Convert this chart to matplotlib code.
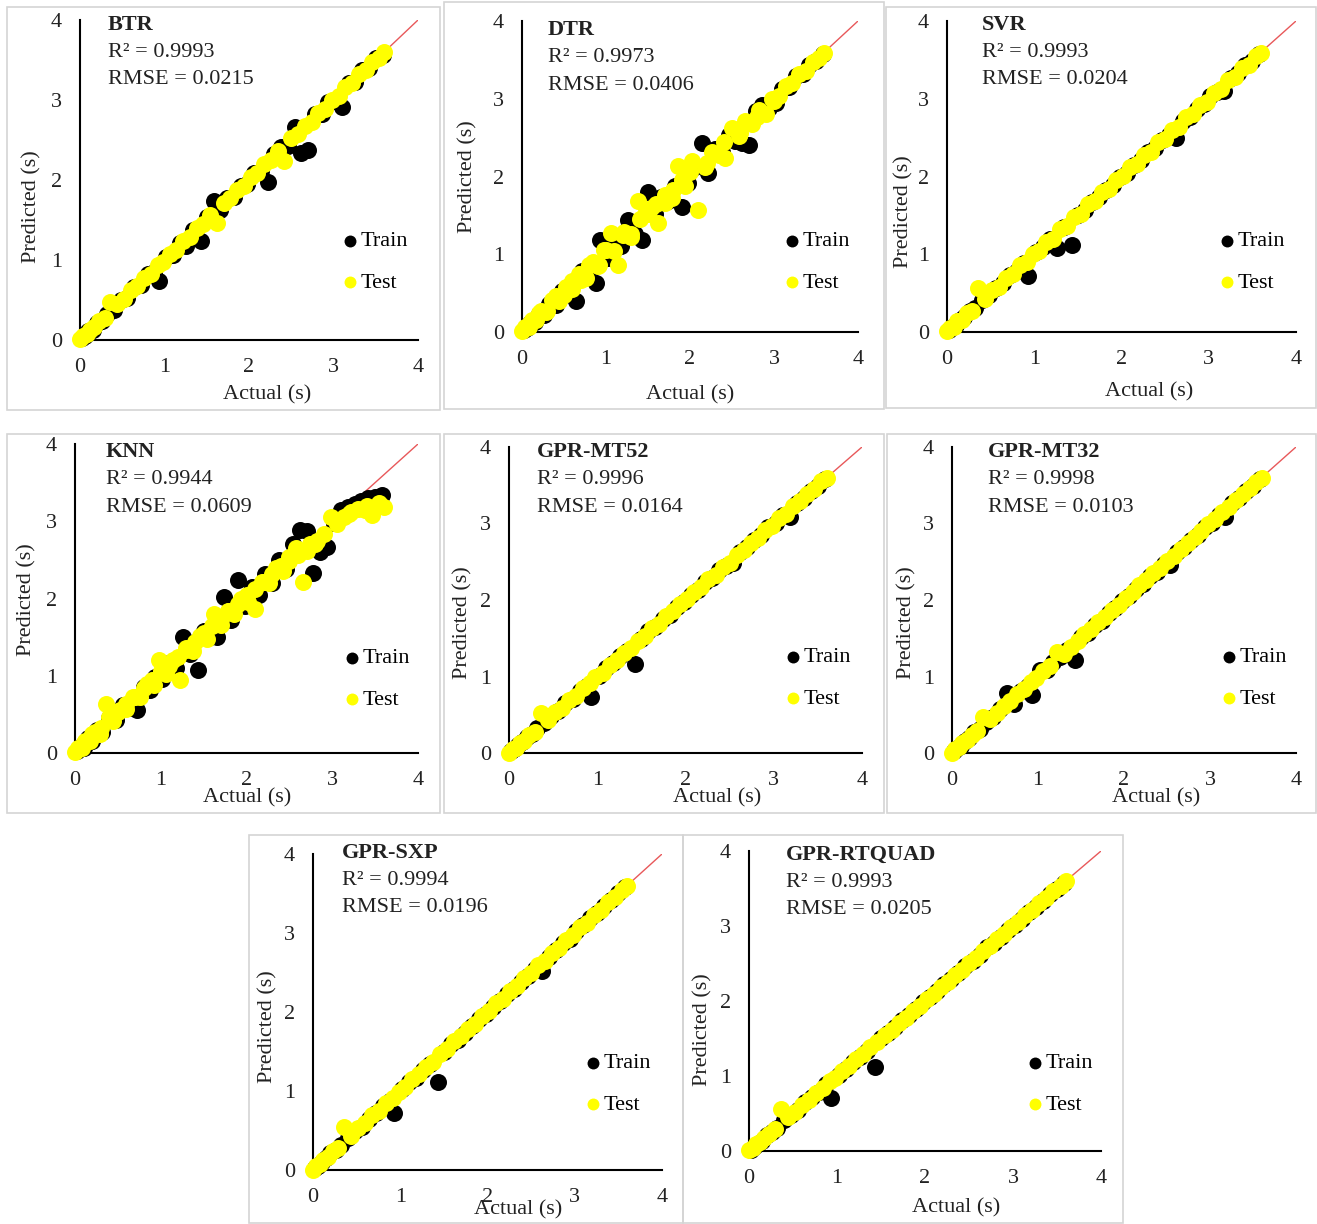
import matplotlib
matplotlib.use('Agg')
import matplotlib.pyplot as plt
from matplotlib.patches import Rectangle
from matplotlib.transforms import offset_copy

plt.rcParams['font.family'] = ['Liberation Serif', 'DejaVu Serif']
plt.rcParams['font.size'] = 16

# model names and scores
models = ['BTR', 'DTR', 'SVR', 'KNN', 'GPR-MT52', 'GPR-MT32', 'GPR-SXP', 'GPR-RTQUAD']
r2 = ['0.9993', '0.9973', '0.9993', '0.9944', '0.9996', '0.9998', '0.9994', '0.9993']
rmse = ['0.0215', '0.0406', '0.0204', '0.0609', '0.0164', '0.0103', '0.0196', '0.0205']

# actual durations (s)
act_train = [0.02, 0.06, 0.10, 0.15, 0.20, 0.26, 0.32, 0.40, 0.48, 0.56, 0.64, 0.72,
             0.80, 0.88, 0.93, 1.02, 1.10, 1.18, 1.26, 1.34, 1.43, 1.50, 1.58, 1.66,
             1.74, 1.82, 1.90, 1.98, 2.06, 2.14, 2.22, 2.30, 2.38, 2.46, 2.54, 2.62,
             2.70, 2.78, 2.86, 2.94, 3.02, 3.10, 3.18, 3.26, 3.34, 3.42, 3.50, 3.58]
act_test = [0.00, 0.04, 0.08, 0.12, 0.17, 0.23, 0.29, 0.36, 0.44, 0.52, 0.60, 0.68,
            0.76, 0.84, 0.92, 0.98, 1.06, 1.14, 1.22, 1.30, 1.38, 1.46, 1.54, 1.62,
            1.70, 1.78, 1.86, 1.94, 2.02, 2.10, 2.18, 2.26, 2.34, 2.42, 2.50, 2.58,
            2.66, 2.74, 2.82, 2.90, 2.98, 3.06, 3.14, 3.22, 3.30, 3.38, 3.46, 3.54, 3.60]

# predicted durations (s), train set
btr_train = [0.02, 0.05, 0.11, 0.13, 0.21, 0.24, 0.33, 0.37, 0.50, 0.53, 0.66, 0.69,
             0.82, 0.85, 0.74, 1.04, 1.06, 1.21, 1.18, 1.37, 1.24, 1.54, 1.74, 1.63,
             1.77, 1.79, 1.93, 1.95, 2.09, 2.11, 1.97, 2.33, 2.41, 2.43, 2.66, 2.34,
             2.38, 2.82, 2.83, 2.97, 2.99, 2.91, 3.21, 3.23, 3.37, 3.40, 3.52, 3.56]
dtr_train = [0.03, 0.05, 0.12, 0.13, 0.23, 0.22, 0.36, 0.35, 0.53, 0.50, 0.40, 0.78,
             0.74, 0.63, 1.18, 0.95, 1.17, 1.10, 1.44, 1.26, 1.18, 1.80, 1.52, 1.73,
             1.68, 1.88, 1.61, 1.92, 2.12, 2.43, 2.04, 2.36, 2.31, 2.53, 2.46, 2.43,
             2.40, 2.84, 2.92, 2.88, 2.95, 3.13, 3.15, 3.29, 3.32, 3.44, 3.48, 3.57]
svr_train = [0.02, 0.06, 0.09, 0.16, 0.19, 0.27, 0.31, 0.41, 0.47, 0.57, 0.63, 0.73,
             0.79, 0.89, 0.72, 1.03, 1.09, 1.19, 1.08, 1.35, 1.12, 1.51, 1.57, 1.67,
             1.73, 1.83, 1.89, 1.99, 2.05, 2.15, 2.21, 2.31, 2.37, 2.47, 2.53, 2.50,
             2.71, 2.77, 2.87, 2.93, 3.03, 3.09, 3.10, 3.27, 3.33, 3.43, 3.49, 3.58]
knn_train = [0.03, 0.08, 0.07, 0.19, 0.16, 0.30, 0.27, 0.45, 0.43, 0.62, 0.58, 0.56,
             0.86, 0.82, 0.99, 0.96, 1.17, 1.10, 1.50, 1.28, 1.07, 1.58, 1.50, 1.50,
             2.02, 1.72, 2.24, 1.90, 2.15, 2.04, 2.32, 2.20, 2.50, 2.38, 2.70, 2.89,
             2.88, 2.33, 2.60, 2.67, 2.98, 3.14, 3.18, 3.22, 3.26, 3.30, 3.32, 3.34]
mt52_train = [0.02, 0.05, 0.11, 0.14, 0.21, 0.25, 0.33, 0.39, 0.49, 0.55, 0.65, 0.71,
              0.81, 0.87, 0.73, 1.01, 1.11, 1.17, 1.27, 1.33, 1.16, 1.49, 1.59, 1.65,
              1.75, 1.81, 1.91, 1.97, 2.07, 2.13, 2.23, 2.29, 2.39, 2.45, 2.48, 2.63,
              2.69, 2.79, 2.85, 2.95, 3.01, 3.11, 3.09, 3.27, 3.33, 3.43, 3.49, 3.58]
mt32_train = [0.02, 0.06, 0.09, 0.16, 0.19, 0.27, 0.31, 0.41, 0.47, 0.57, 0.78, 0.64,
              0.81, 0.87, 0.76, 1.08, 1.09, 1.19, 1.25, 1.35, 1.22, 1.51, 1.57, 1.67,
              1.73, 1.83, 1.89, 1.99, 2.05, 2.15, 2.21, 2.31, 2.37, 2.47, 2.46, 2.63,
              2.69, 2.79, 2.85, 2.95, 3.01, 3.11, 3.09, 3.27, 3.33, 3.43, 3.49, 3.58]
sxp_train = [0.02, 0.05, 0.10, 0.15, 0.21, 0.25, 0.32, 0.40, 0.49, 0.55, 0.64, 0.72,
             0.81, 0.87, 0.72, 1.02, 1.11, 1.17, 1.26, 1.34, 1.12, 1.50, 1.59, 1.65,
             1.74, 1.82, 1.91, 1.97, 2.06, 2.14, 2.23, 2.29, 2.38, 2.46, 2.55, 2.52,
             2.70, 2.78, 2.87, 2.93, 3.02, 3.10, 3.19, 3.25, 3.34, 3.42, 3.51, 3.58]
rtq_train = [0.02, 0.06, 0.10, 0.14, 0.21, 0.26, 0.31, 0.41, 0.48, 0.55, 0.65, 0.72,
             0.79, 0.89, 0.71, 1.01, 1.10, 1.19, 1.26, 1.33, 1.12, 1.51, 1.58, 1.65,
             1.75, 1.82, 1.89, 1.99, 2.06, 2.13, 2.23, 2.30, 2.37, 2.47, 2.54, 2.61,
             2.72, 2.77, 2.86, 2.95, 3.01, 3.09, 3.19, 3.26, 3.33, 3.43, 3.50, 3.57]

# predicted durations (s), test set
btr_test = [0.01, 0.05, 0.07, 0.13, 0.16, 0.24, 0.28, 0.48, 0.45, 0.51, 0.62, 0.67,
            0.78, 0.83, 0.94, 0.97, 1.08, 1.13, 1.24, 1.29, 1.40, 1.45, 1.56, 1.46,
            1.71, 1.77, 1.88, 1.93, 2.04, 2.09, 2.20, 2.25, 2.36, 2.24, 2.52, 2.57,
            2.68, 2.73, 2.84, 2.89, 3.00, 3.05, 3.16, 3.21, 3.32, 3.37, 3.48, 3.53, 3.60]
dtr_test = [0.01, 0.06, 0.07, 0.15, 0.15, 0.27, 0.26, 0.41, 0.40, 0.58, 0.55, 0.75,
            0.70, 0.90, 0.86, 1.05, 1.27, 0.86, 1.28, 1.22, 1.68, 1.52, 1.60, 1.40,
            1.76, 1.72, 2.14, 1.88, 2.20, 1.57, 2.12, 2.32, 2.28, 2.24, 2.62, 2.52,
            2.72, 2.68, 2.86, 2.80, 3.00, 3.04, 3.16, 3.20, 3.32, 3.36, 3.47, 3.53, 3.59]
svr_test = [0.01, 0.05, 0.07, 0.14, 0.16, 0.25, 0.27, 0.57, 0.42, 0.54, 0.58, 0.70,
            0.74, 0.86, 0.90, 1.00, 1.04, 1.16, 1.20, 1.32, 1.36, 1.48, 1.52, 1.64,
            1.68, 1.80, 1.84, 1.96, 2.00, 2.12, 2.16, 2.28, 2.32, 2.44, 2.48, 2.60,
            2.64, 2.76, 2.80, 2.92, 2.96, 3.08, 3.12, 3.24, 3.28, 3.40, 3.44, 3.55, 3.59]
knn_test = [0.01, 0.06, 0.07, 0.15, 0.15, 0.27, 0.25, 0.63, 0.42, 0.56, 0.57, 0.73,
            0.72, 0.89, 0.88, 1.20, 1.02, 1.20, 0.95, 1.36, 1.32, 1.52, 1.48, 1.80,
            1.66, 1.84, 1.80, 2.00, 1.96, 1.86, 2.22, 2.20, 2.40, 2.36, 2.54, 2.66,
            2.22, 2.70, 2.74, 2.84, 3.06, 2.96, 3.06, 3.12, 3.16, 3.14, 3.08, 3.24, 3.18]
mt52_test = [0.00, 0.05, 0.07, 0.13, 0.16, 0.24, 0.28, 0.52, 0.43, 0.53, 0.59, 0.69,
             0.75, 0.85, 0.91, 0.99, 1.05, 1.15, 1.21, 1.31, 1.37, 1.47, 1.53, 1.63,
             1.69, 1.79, 1.85, 1.95, 2.01, 2.11, 2.17, 2.27, 2.33, 2.43, 2.49, 2.59,
             2.65, 2.75, 2.81, 2.91, 2.97, 3.07, 3.13, 3.23, 3.29, 3.39, 3.45, 3.55, 3.60]
mt32_test = [0.00, 0.05, 0.08, 0.13, 0.17, 0.24, 0.29, 0.47, 0.45, 0.52, 0.61, 0.68,
             0.77, 0.84, 0.93, 0.98, 1.07, 1.14, 1.32, 1.30, 1.39, 1.46, 1.55, 1.62,
             1.71, 1.78, 1.87, 1.94, 2.03, 2.10, 2.19, 2.26, 2.35, 2.42, 2.51, 2.58,
             2.67, 2.74, 2.83, 2.90, 2.99, 3.06, 3.15, 3.22, 3.31, 3.38, 3.47, 3.54, 3.60]
sxp_test = [0.00, 0.05, 0.07, 0.13, 0.16, 0.24, 0.28, 0.55, 0.43, 0.53, 0.59, 0.69,
            0.75, 0.85, 0.91, 0.99, 1.05, 1.15, 1.21, 1.31, 1.37, 1.47, 1.53, 1.63,
            1.69, 1.79, 1.85, 1.95, 2.01, 2.11, 2.17, 2.27, 2.33, 2.43, 2.49, 2.59,
            2.65, 2.75, 2.81, 2.91, 2.97, 3.07, 3.13, 3.23, 3.29, 3.39, 3.45, 3.55, 3.60]
rtq_test = [0.01, 0.04, 0.09, 0.12, 0.18, 0.23, 0.30, 0.56, 0.45, 0.52, 0.61, 0.68,
            0.77, 0.84, 0.93, 0.98, 1.07, 1.14, 1.23, 1.30, 1.39, 1.46, 1.55, 1.62,
            1.71, 1.78, 1.87, 1.94, 2.03, 2.10, 2.19, 2.26, 2.35, 2.42, 2.51, 2.58,
            2.67, 2.74, 2.83, 2.90, 2.99, 3.06, 3.15, 3.22, 3.31, 3.38, 3.47, 3.54, 3.60]

# extra test points for the two scattered models
dtr_extra_act = [0.10, 0.20, 0.30, 0.40, 0.50, 0.60, 0.70, 0.80, 0.90, 1.00, 1.10, 1.20,
                 1.30, 1.40, 1.50, 1.60, 1.70, 1.80, 1.90, 2.00, 2.20, 2.40, 2.60, 2.80, 3.00]
dtr_extra_pred = [0.12, 0.24, 0.27, 0.46, 0.47, 0.66, 0.67, 0.86, 0.85, 1.06, 1.04, 1.25,
                  1.26, 1.45, 1.52, 1.65, 1.66, 1.83, 1.95, 2.06, 2.17, 2.44, 2.56, 2.76, 2.97]
knn_extra_act = [0.10, 0.20, 0.30, 0.40, 0.50, 0.60, 0.70, 0.80, 0.90, 1.00, 1.10, 1.20,
                 1.30, 1.40, 1.50, 1.60, 1.70, 1.80, 1.90, 2.00, 2.10, 2.20, 2.30, 2.40,
                 2.50, 2.60, 2.70, 2.80, 3.20, 3.40]
knn_extra_pred = [0.13, 0.24, 0.33, 0.46, 0.53, 0.64, 0.73, 0.84, 0.94, 1.06, 1.13, 1.24,
                  1.33, 1.44, 1.55, 1.64, 1.73, 1.84, 1.93, 2.04, 2.12, 2.22, 2.32, 2.42,
                  2.48, 2.56, 2.62, 2.70, 3.10, 3.20]

pred_train = [btr_train, dtr_train, svr_train, knn_train,
              mt52_train, mt32_train, sxp_train, rtq_train]
pred_test = [btr_test, dtr_test, svr_test, knn_test,
             mt52_test, mt32_test, sxp_test, rtq_test]
test_extra = {1: (dtr_extra_act, dtr_extra_pred), 3: (knn_extra_act, knn_extra_pred)}

W, H = 1317, 1224

# layout in pixels: axes (x at 0, x at 4, y at 4, y at 0), panel frame,
# title anchor, legend marker, x label centre, y label centre
layout = [
    dict(ax=(80, 418, 20, 340), frame=(7, 7, 440, 410), title=(108, 25),
         leg=(350, 240), xl=(267, 395), yl=(32, 207)),
    dict(ax=(522, 858, 21, 332), frame=(444, 2, 884, 409), title=(548, 30),
         leg=(792, 240), xl=(690, 395), yl=(468, 177)),
    dict(ax=(947, 1296, 21, 332), frame=(886, 7, 1316, 408), title=(982, 25),
         leg=(1227, 240), xl=(1149, 392), yl=(904, 212)),
    dict(ax=(75, 418, 444, 753), frame=(7, 434, 440, 813), title=(106, 452),
         leg=(352, 657), xl=(247, 798), yl=(27, 600)),
    dict(ax=(509, 862, 447, 753), frame=(444, 434, 884, 813), title=(537, 452),
         leg=(793, 656), xl=(717, 798), yl=(463, 623)),
    dict(ax=(952, 1296, 447, 753), frame=(887, 434, 1316, 813), title=(988, 452),
         leg=(1229, 656), xl=(1156, 798), yl=(907, 623)),
    dict(ax=(313, 662, 854, 1170), frame=(249, 835, 683, 1223), title=(342, 853),
         leg=(593, 1062), xl=(518, 1210), yl=(268, 1027)),
    dict(ax=(749, 1101, 851, 1151), frame=(683, 835, 1123, 1223), title=(786, 855),
         leg=(1035, 1062), xl=(956, 1208), yl=(703, 1030)),
]


def fx(x):
    return x / W


def fy(y):
    return 1 - y / H


fig = plt.figure(figsize=(W / 100, H / 100), dpi=100)

for i, name in enumerate(models):
    L = layout[i]
    l, r, t, b = L['ax']
    fl, ft, fr, fb = L['frame']
    fig.patches.append(Rectangle((fx(fl), fy(fb)), fx(fr - fl), (fb - ft) / H,
                                 transform=fig.transFigure, fill=False,
                                 edgecolor='#d4d4d4', linewidth=1.2))

    ax = fig.add_axes([fx(l), fy(b), fx(r - l), (b - t) / H])
    ax.set_xlim(0, 4)
    ax.set_ylim(0, 4)
    ax.plot([0, 4], [0, 4], color='#e8585a', linewidth=1, zorder=1)

    tx_act, tx_pred = list(act_test), list(pred_test[i])
    if i in test_extra:
        tx_act += test_extra[i][0]
        tx_pred += test_extra[i][1]
    ax.scatter(act_train, pred_train[i], s=150, color='black', linewidths=0,
               label='Train', zorder=2, clip_on=False)
    ax.scatter(tx_act, tx_pred, s=150, color='#ffff00', linewidths=0,
               label='Test', zorder=3, clip_on=False)

    for side in ['top', 'right']:
        ax.spines[side].set_visible(False)
    for side in ['left', 'bottom']:
        ax.spines[side].set_linewidth(1.5)
        ax.spines[side].set_color('black')
    ax.set_xticks([0, 1, 2, 3, 4])
    ax.set_yticks([0, 1, 2, 3, 4])
    ax.tick_params(length=0, labelsize=16, colors='#222222')
    ax.tick_params(axis='x', pad=13)
    ax.tick_params(axis='y', pad=13)
    ax.patch.set_alpha(0)

    ax.set_xlabel('Actual (s)', fontsize=16, va='center', color='#222222')
    ax.xaxis.set_label_coords(fx(L['xl'][0]), fy(L['xl'][1]), transform=fig.transFigure)
    ax.set_ylabel('Predicted (s)', fontsize=16, va='center', color='#222222')
    ax.yaxis.set_label_coords(fx(L['yl'][0]), fy(L['yl'][1]), transform=fig.transFigure)

    tx, ty = fx(L['title'][0]), fy(L['title'][1])
    lines = [(name, 'bold'), ('R\u00b2 = ' + r2[i], 'normal'), ('RMSE = ' + rmse[i], 'normal')]
    for k, (txt, wt) in enumerate(lines):
        tr = offset_copy(fig.transFigure, fig=fig, y=-27.5 * k, units='dots')
        fig.text(tx, ty, txt, transform=tr, fontsize=16, fontweight=wt,
                 va='center', ha='left', color='#222222')

    lx, ly = L['leg']
    ax.legend(loc='center left', bbox_to_anchor=(fx(lx - 7), fy(ly + 22)),
              bbox_transform=fig.transFigure, frameon=False, fontsize=16,
              handlelength=0.6, handletextpad=0.2, labelspacing=0.95,
              borderpad=0, borderaxespad=0, markerscale=0.7)

fig.savefig('out.png', dpi=100, facecolor='white')
